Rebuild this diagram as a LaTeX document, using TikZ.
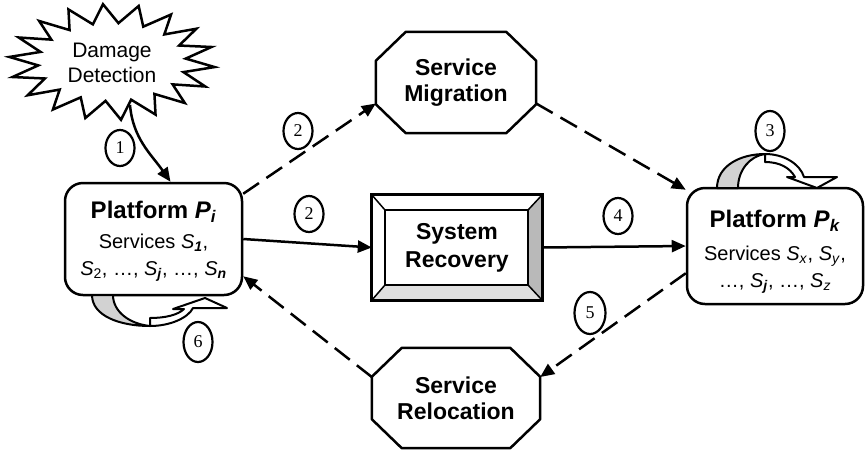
\documentclass[tikz,border=0pt]{standalone}
\usepackage{fontspec}
\setmainfont{Liberation Sans}
\newfontfamily\numfont{Liberation Serif}
\usetikzlibrary{shapes.geometric,arrows.meta,calc}

\tikzset{
  platform/.style={draw, line width=2.5pt, rounded corners=18pt, align=center,
    inner sep=0pt},
  service/.style={align=center, inner sep=0pt,
    font=\fontsize{23}{26}\selectfont\bfseries},
  steplabel/.style={ellipse, draw, line width=2.2pt, fill=white, minimum width=29pt,
    minimum height=36pt, inner sep=0pt, font=\numfont\fontsize{18}{18}\selectfont},
  flow/.style={line width=2.5pt, -{Triangle[length=14pt,width=12pt]}},
  moved/.style={flow, dash pattern=on 19pt off 9pt},
  ribbon/.style={line width=2pt, line join=round},
}

\begin{document}
\begin{tikzpicture}[x=1pt,y=-1pt]
  \useasboundingbox (0,0) rectangle (865,451);

  % damage detection (starburst)
  \node[align=center, inner sep=0pt, font=\fontsize{21}{25}\selectfont] (dd) at (112,63) {Damage\\Detection};
  \draw[line width=2.5pt, line join=miter] plot[samples at={0,...,35}, variable=\k]
    ({112+(isodd(\k) ? 74 : 103)*cos(\k*10+5)}, {62+(isodd(\k) ? 39 : 58)*sin(\k*10+5)}) -- cycle;

  % platforms
  \node[platform, minimum width=177pt, minimum height=112pt] (pi) at (153.5,239) {};
  \node[align=center] at (153.5,212) {\fontsize{24}{24}\selectfont\bfseries Platform \textit{P}\textsubscript{\textit{i}}};
  \node[align=center, font=\fontsize{20}{27}\selectfont] at (153.5,258)
    {Services \textit{S}\textsubscript{\textbf{\textit{1}}},\\
     \textit{S}\textsubscript{2}, \dots, \textit{S}\textsubscript{\textbf{\textit{j}}}, \dots, \textit{S}\textsubscript{\textbf{\textit{n}}}};

  \node[platform, minimum width=176pt, minimum height=116pt] (pk) at (775,246) {};
  \node[align=center] at (775,221) {\fontsize{24}{24}\selectfont\bfseries Platform \textit{P}\textsubscript{\textit{k}}};
  \node[align=center, font=\fontsize{20}{27}\selectfont] at (775,270)
    {Services \textit{S}\textsubscript{\textit{x}}, \textit{S}\textsubscript{\textit{y}},\\
     \dots, \textit{S}\textsubscript{\textbf{\textit{j}}}, \dots, \textit{S}\textsubscript{\textit{z}}};

  % services (octagons)
  \node[service, minimum width=160pt, minimum height=101pt] (mig) at (456,82.5) {Service\\Migration};
  \node[service, minimum width=168pt, minimum height=100pt] (rel) at (456,398) {Service\\Relocation};
  \foreach \n in {mig,rel}
    \draw[line width=2.5pt, line join=round] ($(\n.north west)+(30,0)$) -- ($(\n.north east)+(-30,0)$)
      -- ($(\n.north east)+(0,29)$) -- ($(\n.south east)+(0,-29)$) -- ($(\n.south east)+(-30,0)$)
      -- ($(\n.south west)+(30,0)$) -- ($(\n.south west)+(0,-29)$) -- ($(\n.north west)+(0,29)$) -- cycle;

  % system recovery button
  \node[minimum width=170pt, minimum height=105pt, inner sep=0pt] (sr) at (457,247.5) {};
  \fill[gray!55] (sr.north east) -- (sr.south east) -- ($(sr.south east)+(-14,-15)$)
    -- ($(sr.north east)+(-14,15)$) -- cycle;
  \fill[gray!25] (sr.south west) -- (sr.south east) -- ($(sr.south east)+(-14,-15)$)
    -- ($(sr.south west)+(13,-15)$) -- cycle;
  \draw[line width=2pt] ($(sr.north west)+(13,15)$) rectangle ($(sr.south east)+(-14,-15)$);
  \draw[line width=1.5pt] (sr.north west) -- ++(13,15) (sr.north east) -- ++(-14,15)
    (sr.south west) -- ++(13,-15) (sr.south east) -- ++(-14,-15);
  \draw[line width=3pt] (sr.north west) rectangle (sr.south east);
  \node[align=center, font=\fontsize{23}{28}\selectfont\bfseries] at (sr.center) {System\\Recovery};

  % connectors
  \draw[flow] ($(dd.center)+(18,42)$) to[out=-85,in=125] ($(pi.north)+(17,0)$);
  \draw[moved] ($(pi.north east)+(0,12)$) -- ($(mig.west)+(0,21)$);
  \draw[flow] (pi.east) -- (sr.west);
  \draw[flow] (sr.east) -- (pk.west);
  \draw[moved] ($(mig.east)+(0,21)$) -- ($(pk.north west)+(0,3)$);
  \draw[moved] ($(pk.south west)+(0,-32)$) -- ($(rel.east)+(0,-21)$);
  \draw[moved] ($(rel.west)+(0,-21)$) -- ($(pi.south east)+(0,-20)$);

  % self loops
  \draw[ribbon, fill=gray!35] (717,188) .. controls (717,166) and (740,154) .. (765,154)
    .. controls (750,156) and (738,170) .. (738,188) -- cycle;
  \draw[ribbon, fill=white] (765,154) .. controls (784,154) and (800,164) .. (804,177)
    -- (837,177) -- (817,188) -- (787,177) -- (795,177)
    .. controls (790,168) and (780,162) .. (765,162) -- cycle;
  \draw[ribbon, fill=gray!35] (92,295) .. controls (92,316) and (120,326) .. (150,326)
    .. controls (130,324) and (113,312) .. (113,295) -- cycle;
  \draw[ribbon, fill=white] (150,326) .. controls (170,326) and (188,318) .. (193,308)
    -- (227,308) -- (205,298) -- (173,309) -- (184,309)
    .. controls (178,315) and (165,318) .. (150,318) -- cycle;

  % step labels
  \node[steplabel] (n1) at (120,148) {1};
  \node[steplabel] (n2a) at (298,131) {2};
  \node[steplabel] (n2b) at (309,214) {2};
  \node[steplabel, minimum height=40pt] (n3) at (770,131) {3};
  \node[steplabel] (n4) at (618,216) {4};
  \node[steplabel, minimum width=31pt, minimum height=42pt] (n5) at (590,313) {5};
  \node[steplabel, minimum height=40pt] (n6) at (198,342) {6};
\end{tikzpicture}
\end{document}
